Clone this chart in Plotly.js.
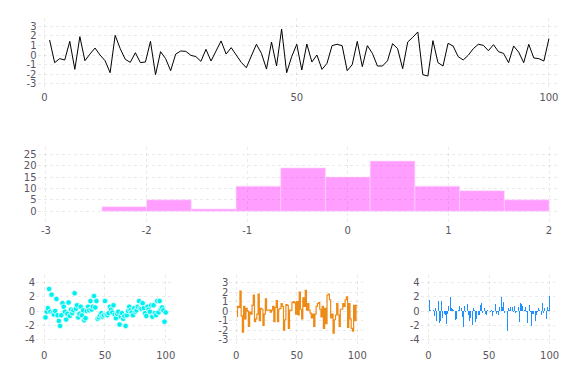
<!DOCTYPE html>
<html>
<head>
<meta charset="utf-8">
<script src="https://cdn.plot.ly/plotly-3.0.1.min.js"></script>
<style>html,body{margin:0;padding:0;background:#fff;}#chart{width:576px;height:384px;}</style>
</head>
<body>
<div id="chart"></div>
<script>
// ---- data ----
const lineY = [1.57,-0.8,-0.38,-0.52,1.43,-1.5,1.92,-0.6,0.1,0.73,0.0,-0.6,-1.85,2.06,0.66,-0.45,-0.77,0.24,-0.8,-0.73,
  1.43,-2.06,0.35,-0.38,-1.64,0.1,0.42,0.38,-0.03,-0.17,-0.66,0.59,-0.63,0.42,1.47,0.1,0.77,0.0,-0.77,-1.33,
  -0.17,1.12,0.17,-1.47,1.36,-1.15,2.72,-1.85,-0.17,1.12,-1.57,1.15,-0.73,0.0,-1.5,-0.87,0.98,1.12,0.98,-1.64,
  -1.01,1.43,-1.22,0.98,0.17,-1.15,-1.15,-0.6,1.19,0.66,-1.43,1.36,1.85,2.41,-2.06,-2.2,1.5,-0.8,-1.15,1.22,
  0.94,-0.17,-0.52,-0.03,0.66,1.12,1.01,0.45,1.08,0.35,0.17,-0.8,0.94,0.31,-0.8,1.12,-0.31,-0.38,-0.63,1.71];

const histEdges = [-2.444,-2.0,-1.556,-1.111,-0.667,-0.222,0.222,0.667,1.111,1.556,2.0];
const histCounts = [2,5,1,11,19,15,22,11,9,5];

const scatterY = [-0.9,-0.1,0.4,3.1,-0.1,2.3,-0.3,-0.5,0.0,1.7,-0.6,-1.4,-2.1,-0.6,1.1,0.6,-0.1,-1.2,-0.4,1.2,
  -0.7,0.2,-0.3,0.1,2.5,0.3,0.8,-0.9,-0.4,0.6,-0.6,0.1,-1.3,-1.0,0.0,0.6,0.1,1.4,0.2,0.6,
  2.1,0.5,1.4,-1.1,-0.9,-0.6,-0.3,-0.8,-0.6,1.4,-0.5,-0.6,-0.3,0.6,0.2,-0.2,0.8,-0.5,-1.0,-0.4,
  -0.1,-1.9,-0.8,-0.3,-1.1,-0.7,-2.1,-0.6,0.0,0.6,0.1,-0.2,-0.6,0.4,-0.1,0.1,0.6,1.4,0.4,0.3,
  1.1,0.4,-0.3,-0.7,0.6,0.2,-0.1,0.8,-0.8,0.8,-0.3,-0.6,1.4,-0.2,1.4,0.3,0.5,0.1,-1.5,-0.2];

const stepY = [-0.6,0.5,0.4,2.1,-0.5,-2.2,0.5,-0.8,0.3,0.0,-1.6,-0.1,-0.3,0.6,1.7,-1.1,-0.8,-0.3,1.8,-1.0,
  0.3,0.2,-1.5,-0.3,1.3,0.1,0.1,0.1,-0.1,0.1,0.5,-1.1,0.4,1.1,-1.1,0.2,0.3,0.8,0.5,-2.0,
  -0.9,0.7,0.6,-1.8,0.1,0.1,0.9,1.0,0.9,-0.3,1.0,-0.4,2.0,0.2,-0.8,1.4,0.5,2.2,0.1,0.8,
  0.1,-0.2,-0.7,-0.3,-1.6,-0.3,0.5,0.8,0.9,0.2,-0.6,0.5,-1.8,0.3,-1.3,1.7,1.8,1.2,-0.7,-0.3,
  -2.3,-0.9,-0.4,0.8,-0.4,-1.6,0.2,0.2,0.8,0.5,1.2,1.5,-1.7,0.8,-0.8,-1.8,-2.1,0.6,-1.0,0.6];

const barY = [1.5,0.1,3.1,0.1,-0.7,0.4,-1.4,1.4,-1.7,-1.4,1.4,-1.0,-0.4,-0.6,-1.8,-0.4,0.7,1.9,0.4,0.3,
  0.2,-1.2,-1.1,0.0,0.1,0.7,0.4,-0.9,-2.2,0.7,-0.2,1.0,-0.6,-1.4,-1.0,-1.9,0.4,0.2,-1.5,-1.1,
  -0.6,-0.6,0.8,1.1,-0.3,0.4,-0.4,-0.6,0.2,0.9,-0.1,0.2,-0.7,-0.2,1.0,-0.4,-0.1,-0.6,0.5,1.9,
  0.5,1.2,-0.3,0.9,-2.8,0.4,0.2,0.5,0.6,-0.1,0.7,-0.3,-0.2,0.6,-1.6,1.1,1.0,0.7,0.2,0.6,
  -0.1,-1.7,0.8,-0.1,-2.1,-0.4,-0.4,-1.4,-0.5,-0.1,0.4,0.2,-0.6,1.1,-0.3,0.4,-1.1,0.6,0.2,2.1];

const topTicks = [-3,-2,-1,0,1,2,3];
const histXTicks = [-3,-2,-1,0,1,2];
const histYTicks = [0,5,10,15,20,25];
const xTicks100 = [0,50,100];
const smallY4 = [-4,-2,0,2,4];
const smallY3 = [-3,-2,-1,0,1,2,3];

// ---- build ----
const idx = n => Array.from({length:n},(_,i)=>i+1);
const histCenters = histCounts.map((_,i)=>(histEdges[i]+histEdges[i+1])/2);
const histWidths = histCounts.map((_,i)=>histEdges[i+1]-histEdges[i]);

const W=576,H=384;
const dx=(a,b)=>[a/W,b/W];
const dy=(top,bot)=>[1-bot/H,1-top/H];

const traces = [
  {type:'scatter',mode:'lines',x:idx(lineY.length),y:lineY,xaxis:'x',yaxis:'y',
    line:{color:'#000',width:1}},
  {type:'bar',x:histCenters,y:histCounts,width:histWidths,xaxis:'x2',yaxis:'y2',
    marker:{color:'rgba(255,0,255,0.38)',line:{color:'rgba(255,220,255,0.6)',width:1}}},
  {type:'scatter',mode:'markers',x:idx(scatterY.length),y:scatterY,xaxis:'x3',yaxis:'y3',
    marker:{color:'#00f0f0',size:5.5,line:{color:'rgba(255,255,255,0.9)',width:0.8}}},
  {type:'scatter',mode:'lines',x:idx(stepY.length),y:stepY,xaxis:'x4',yaxis:'y4',
    line:{color:'rgb(238,138,22)',width:1.2,shape:'vh'}},
  {type:'bar',x:idx(barY.length),y:barY,xaxis:'x5',yaxis:'y5',width:0.8,
    marker:{color:'rgb(30,144,255)',line:{width:0}}}
];

const tickFont = {family:'DejaVu Sans, sans-serif',size:10,color:'#5a5560'};
const ax = (dom,range,ticks,anchor)=>({domain:dom,range:range,tickvals:ticks,ticktext:ticks.map(String),
  showgrid:true,gridcolor:'rgba(0,0,0,0.12)',griddash:'dot',gridwidth:0.7,zeroline:false,showline:false,
  ticks:'',tickfont:tickFont,anchor:anchor,fixedrange:true});

const layout = {
  width:W,height:H,margin:{l:0,r:0,t:0,b:0},paper_bgcolor:'#fff',plot_bgcolor:'#fff',showlegend:false,
  bargap:0,
  xaxis: ax(dx(37.5,556.5),[-1.4,101.5],xTicks100,'y'),
  yaxis: ax(dy(18,90),[-3.66,3.87],topTicks,'x'),
  xaxis2: ax(dx(37.5,556.5),[-3.084,2.074],histXTicks,'y2'),
  yaxis2: ax(dy(146.7,223.3),[-5.3,28.3],histYTicks,'x2'),
  xaxis3: ax(dx(36,170.7),[-6.8,104.1],xTicks100,'y3'),
  yaxis3: ax(dy(275,348.3),[-5.24,5.06],smallY4,'x3'),
  xaxis4: ax(dx(229.3,363.3),[-5.8,105],xTicks100,'y4'),
  yaxis4: ax(dy(275,348.3),[-3.9,3.8],smallY3,'x4'),
  xaxis5: ax(dx(420.7,555),[-6.3,104.4],xTicks100,'y5'),
  yaxis5: ax(dy(275,348.3),[-5.24,5.06],smallY4,'x5')
};

Plotly.newPlot('chart',traces,layout,{staticPlot:true,displayModeBar:false});
</script>
</body>
</html>
